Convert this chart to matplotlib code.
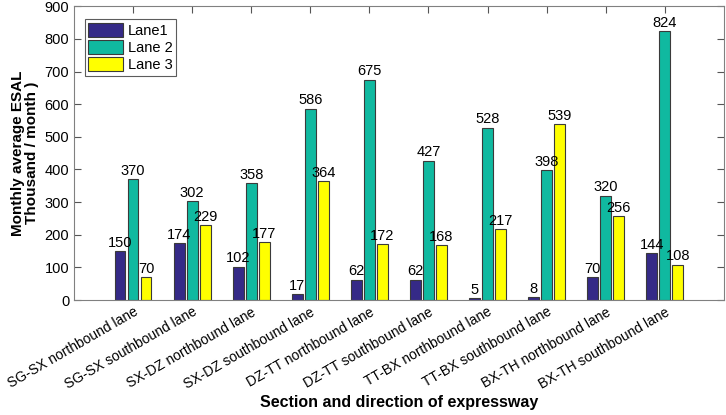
import numpy as np
import matplotlib.pyplot as plt

plt.rcParams['font.family'] = ['Liberation Sans', 'DejaVu Sans']

sections = [
    "SG-SX northbound lane", "SG-SX southbound lane",
    "SX-DZ northbound lane", "SX-DZ southbound lane",
    "DZ-TT northbound lane", "DZ-TT southbound lane",
    "TT-BX northbound lane", "TT-BX southbound lane",
    "BX-TH northbound lane", "BX-TH southbound lane",
]
lane1 = [150, 174, 102, 17, 62, 62, 5, 8, 70, 144]
lane2 = [370, 302, 358, 586, 675, 427, 528, 398, 320, 824]
lane3 = [70, 229, 177, 364, 172, 168, 217, 539, 256, 108]

series = [("Lane1", lane1, "#352a87"),
          ("Lane 2", lane2, "#10b9a0"),
          ("Lane 3", lane3, "#ffff00")]

fig = plt.figure(figsize=(7.26, 4.15), dpi=100)
ax = fig.add_axes([0.102, 0.277, 0.895, 0.708])

x = np.arange(1, len(sections) + 1)
step = 0.22
width = 0.18

for i, (name, vals, color) in enumerate(series):
    pos = x + (i - 1) * step
    ax.bar(pos, vals, width, color=color, edgecolor="#3a3a3a",
           linewidth=0.8, label=name, zorder=2)
    for p, v in zip(pos, vals):
        ax.text(p, v + 4, str(v), ha="center", va="bottom", fontsize=10.5)

ax.set_xlim(0, 11)
ax.set_ylim(0, 900)
ax.set_yticks(np.arange(0, 901, 100))
ax.set_xticks(x)
ax.set_xticklabels(sections, rotation=30, ha="right",
                   rotation_mode="anchor", fontsize=10)
ax.tick_params(axis="y", labelsize=10.5)
ax.tick_params(direction="in", top=True, right=True, length=5,
               color="#555555", zorder=3)
for s in ax.spines.values():
    s.set_color("#808080")
    s.set_zorder(3)

ax.set_ylabel("Monthly average ESAL\nThousand / month )",
              fontsize=11, fontweight="bold", linespacing=1.0)
ax.set_xlabel("Section and direction of expressway",
              fontsize=11.5, fontweight="bold", labelpad=2)

leg = ax.legend(loc="upper left", bbox_to_anchor=(0.012, 0.965),
                fontsize=10.5, fancybox=False, borderaxespad=0.2,
                handlelength=2.4, handleheight=1.1, handletextpad=0.3,
                labelspacing=0.15, borderpad=0.25)
leg.get_frame().set_edgecolor("#333333")
leg.get_frame().set_linewidth(0.8)

fig.savefig("out.png", dpi=100)
